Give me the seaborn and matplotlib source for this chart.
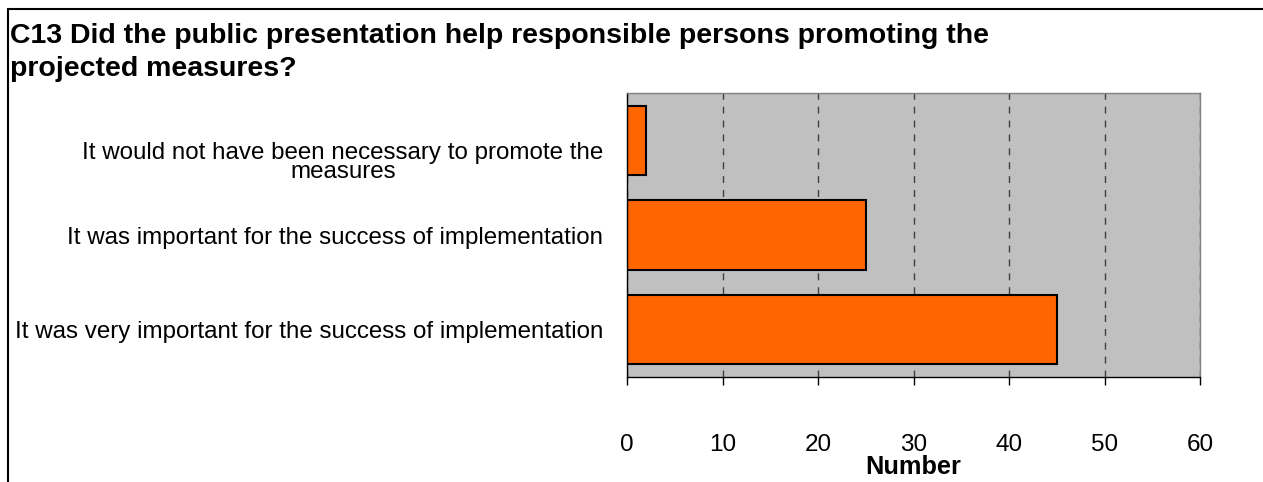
import matplotlib
matplotlib.use("Agg")
import matplotlib.pyplot as plt
from matplotlib.lines import Line2D
from matplotlib.transforms import ScaledTranslation
import seaborn as sns
import pandas as pd

categories = [
    "It would not have been necessary to promote the\nmeasures",
    "It was important for the success of implementation",
    "It was very important for the success of implementation",
]
counts = [2, 25, 45]
x_ticks = [0, 10, 20, 30, 40, 50, 60]

title = "C13 Did the public presentation help responsible persons promoting the\nprojected measures?"

sns.set_theme(style="white")
plt.rcParams["font.family"] = ["Liberation Sans", "DejaVu Sans"]
plt.rcParams.update({"text.color": "black", "axes.labelcolor": "black",
                     "xtick.color": "black", "ytick.color": "black"})

df = pd.DataFrame({"category": categories, "count": counts})

W, H = 1263, 482
fig = plt.figure(figsize=(W / 100, H / 100), dpi=100)
ax = fig.add_axes([627 / W, 1 - 377 / H, (1200 - 627) / W, (377 - 93) / H])

sns.barplot(data=df, x="count", y="category", orient="h", color="#FF6600",
            saturation=1, width=0.73, edgecolor="black", linewidth=1.5, ax=ax)

ax.set_facecolor("#C0C0C0")
ax.set_xlim(0, 60)
ax.set_ylim(2.5, -0.5)
ax.set_xticks(x_ticks)
ax.set_xticklabels([str(t) for t in x_ticks], fontsize=17.5)
ax.xaxis.grid(True, color="#404040", linestyle=(0, (5, 5)), linewidth=1)
ax.set_axisbelow(True)

# y tick marks sit on the category boundaries, labels at the centres
ax.set_yticks([0, 1, 2])
ax.set_yticklabels(categories, fontsize=17.4, multialignment="center", linespacing=0.85)
ax.set_yticks([-0.5, 0.5, 1.5, 2.5], minor=True)
ax.tick_params(axis="y", which="major", length=0, pad=17)
ax.tick_params(axis="y", which="minor", length=6, width=1, color="black", direction="out")
ax.tick_params(axis="x", length=6, width=1, color="black", direction="out", pad=35, bottom=True)

# the wrapped label sits a little below its bar centre
first = ax.get_yticklabels()[0]
first.set_transform(first.get_transform() + ScaledTranslation(0, -0.21, fig.dpi_scale_trans))

ax.set_ylabel("")
ax.set_xlabel("Number", fontsize=18.3, fontweight="bold")
ax.xaxis.set_label_coords(0.5, (377 - 455) / (377 - 93))

for side in ["top", "right"]:
    ax.spines[side].set_color("#808080")
    ax.spines[side].set_linewidth(1)
for side in ["left", "bottom"]:
    ax.spines[side].set_color("black")
    ax.spines[side].set_linewidth(1)

fig.text(10 / W, 1 - 23 / H, title, fontsize=20.5, fontweight="bold",
         ha="left", va="top", linespacing=1.33)

# outer frame (top and left edges)
fig.add_artist(Line2D([8 / W, 1], [1 - 9 / H, 1 - 9 / H], transform=fig.transFigure,
                      color="black", linewidth=1.5))
fig.add_artist(Line2D([8 / W, 8 / W], [0, 1 - 9 / H], transform=fig.transFigure,
                      color="black", linewidth=1.5))

fig.savefig("out.png", dpi=100, facecolor="white")
